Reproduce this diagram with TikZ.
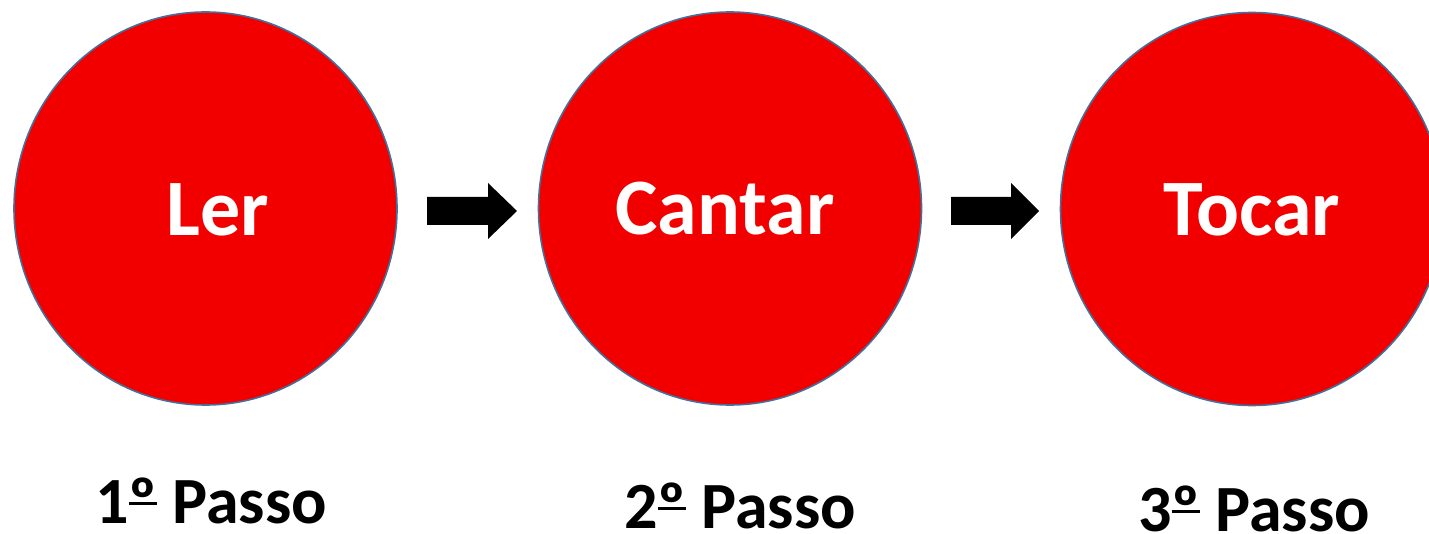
\documentclass[tikz,border=0pt]{standalone}
\usepackage{fontspec}
\setmainfont{Carlito}
\usetikzlibrary{shapes.geometric}
\definecolor{circfill}{RGB}{242,0,0}
\definecolor{circline}{RGB}{65,113,156}
\newcommand{\ordmu}{\setbox0\hbox{º}\rlap{\raisebox{0.27em}{\rule{\wd0}{0.055em}}}º}
\begin{document}
\begin{tikzpicture}[x=1pt,y=-1pt,
  stepcircle/.style={ellipse, draw=circline, line width=1.6pt, fill=circfill,
    minimum width=383pt, minimum height=393pt, inner sep=0pt},
  steptext/.style={anchor=base, text=white, font=\fontsize{80}{90}\selectfont\bfseries, inner sep=0pt},
  passotext/.style={anchor=base, text=black, font=\fontsize{66}{70}\selectfont\bfseries, inner sep=0pt, text depth=0pt},
  blockarrow/.style={fill=black}]
\useasboundingbox (0,0) rectangle (1429,534);
\clip (0,0) rectangle (1429,534);
% circles
\node[stepcircle] (c1) at (205.5,208.5) {};
\node[stepcircle] (c2) at (730,208.5) {};
\node[stepcircle] (c3) at (1252,209) {};
% texts in circles
\node[steptext] (t1) at (218,236) {Ler};
\node[steptext] (t2) at (725,235) {Cantar};
\node[steptext] (t3) at (1252,236) {Tocar};
% block arrows
\coordinate (a1) at (427,211);
\coordinate (a2) at (951,211);
\fill[blockarrow] (a1) ++(0,-14) -- ++(61,0) -- ++(0,-14) -- ++(29,28) -- ++(-29,28) -- ++(0,-14) -- ++(-61,0) -- cycle;
\fill[blockarrow] (a2) ++(0,-14) -- ++(60,0) -- ++(0,-14) -- ++(28,28) -- ++(-28,28) -- ++(0,-14) -- ++(-60,0) -- cycle;
% labels
\node[passotext] (p1) at (211,523) {1\ordmu{} Passo};
\node[passotext] (p2) at (740,528) {2\ordmu{} Passo};
\node[passotext] (p3) at (1254,531) {3\ordmu{} Passo};
\end{tikzpicture}
\end{document}
